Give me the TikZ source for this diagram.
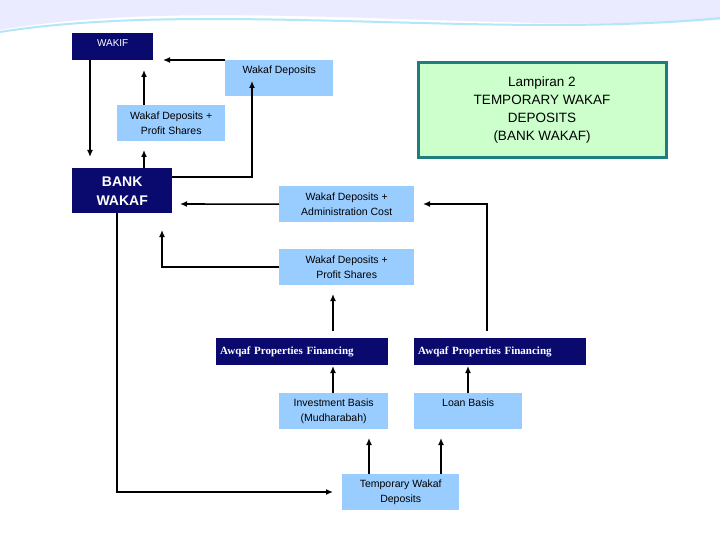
\documentclass[tikz,border=0pt]{standalone}
\usepackage{fontspec}
\setmainfont{Liberation Sans}
\newfontfamily\serifb{Liberation Serif}
\usetikzlibrary{arrows.meta}
\definecolor{navy}{HTML}{0A0A6E}
\definecolor{lblue}{HTML}{99CCFF}
\definecolor{lgreen}{HTML}{CCFFCC}
\definecolor{teal2}{HTML}{1E7E7E}
\begin{document}
\begin{tikzpicture}[x=1pt,y=-1pt,
  lb/.style={fill=lblue,draw=none,anchor=north west,inner sep=0pt,align=center,font=\fontsize{10.5}{15}\selectfont},
  nv/.style={fill=navy,draw=none,anchor=north west,inner sep=0pt,text=white},
  aw/.style={nv,minimum width=172,minimum height=27,font=\serifb\bfseries\fontsize{11}{12}\selectfont,align=left,text width=164,inner xsep=4pt},
  arr/.style={draw=black,line width=1.6pt,-{Latex[length=7pt,width=6pt]}},
  ln/.style={draw=black,line width=1.6pt}]
\useasboundingbox (0,0) rectangle (720,540);
\fill[white] (0,0) rectangle (720,540);
\fill[blue!8] (0,0) -- (720,0) -- (720,20) .. controls (500,35) and (200,-5) .. (0,30) -- cycle;
\draw[cyan!30,line width=2pt] (0,32) .. controls (200,0) and (500,40) .. (720,18);
% nodes
\node[nv,minimum width=81,minimum height=27,text depth=7pt,font=\fontsize{10}{12}\selectfont] (wakif) at (72,33) {WAKIF};
\node[lb,minimum width=108,minimum height=36,text depth=17pt] (wd) at (225,60) {Wakaf Deposits};
\node[anchor=north west,fill=lgreen,draw=teal2,line width=3pt,minimum width=248,minimum height=95,align=center,font=\fontsize{13.5}{18}\selectfont] (lamp) at (416.5,61.5) {Lampiran 2\\TEMPORARY WAKAF\\DEPOSITS\\(BANK WAKAF)};
\node[lb,minimum width=108,minimum height=36] (wdps1) at (117,105) {Wakaf Deposits +\\Profit Shares};
\node[nv,minimum width=100,minimum height=45,align=center,font=\bfseries\fontsize{14}{19}\selectfont] (bank) at (72,168) {BANK\\WAKAF};
\node[lb,minimum width=135,minimum height=36] (wdac) at (279,186) {Wakaf Deposits +\\Administration Cost};
\node[lb,minimum width=135,minimum height=36] (wdps2) at (279,249) {Wakaf Deposits +\\Profit Shares};
\node[aw] (aw1) at (216,338) {Awqaf Properties Financing};
\node[aw] (aw2) at (414,338) {Awqaf Properties Financing};
\node[lb,minimum width=109,minimum height=36] (inv) at (279,393) {Investment Basis\\(Mudharabah)};
\node[lb,minimum width=108,minimum height=36,text depth=17pt] (loan) at (414,393) {Loan Basis};
\node[lb,minimum width=117,minimum height=36] (temp) at (342,474) {Temporary Wakaf\\Deposits};
% connectors
\coordinate (c1) at (90,157);
\draw[arr] (90,60) -- (c1);
\coordinate (c2) at (163,60);
\draw[arr] (wd.north west) -- (c2);
\coordinate (c3) at (144,70);
\draw[arr] (wdps1.north -| c3) -- (c3);
\coordinate (c4) at (144,150);
\draw[arr] (bank.north -| c4) -- (c4);
\coordinate (c5) at (252,81);
\draw[arr] (bank.east |- 0,177) -| (c5);
\coordinate (c6) at (180,204);
\draw[arr] (wdac.west) -- (c6);
\coordinate (c7) at (423,204);
\draw[arr] (487,331) |- (c7);
\coordinate (c8) at (162,230);
\draw[arr] (wdps2.west) -| (c8);
\coordinate (c9) at (333,294);
\draw[arr] (333,331) -- (c9);
\coordinate (c10) at (333,366);
\draw[arr] (inv.north -| c10) -- (c10);
\coordinate (c11) at (468,366);
\draw[arr] (loan.north -| c11) -- (c11);
\coordinate (c12) at (369,438);
\draw[arr] (temp.north -| c12) -- (c12);
\coordinate (c13) at (441,438);
\draw[arr] (temp.north -| c13) -- (c13);
\coordinate (c14) at (333,492);
\draw[arr] (bank.south -| 117,0) |- (c14);
\end{tikzpicture}
\end{document}
